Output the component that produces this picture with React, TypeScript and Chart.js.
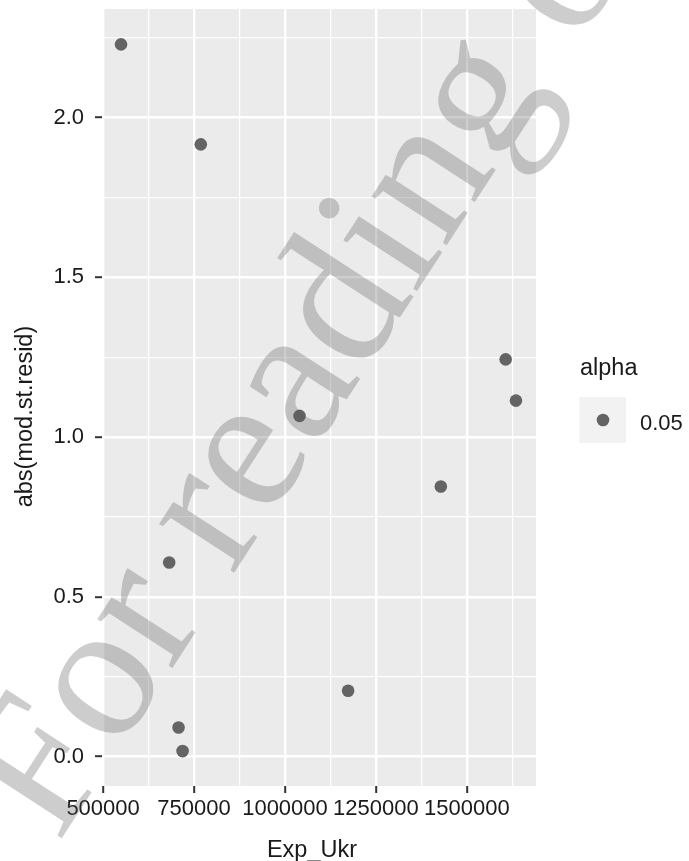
import React, { useEffect, useRef } from 'react';
import { Chart, registerables } from 'chart.js';

Chart.register(...registerables);

// ---- data ----
const expUkr = [549300, 768600, 681700, 707500, 718500, 1040000, 1173500, 1428400, 1606600, 1634900];
const absResid = [2.229, 1.916, 0.607, 0.091, 0.017, 1.066, 0.206, 0.845, 1.243, 1.114];

const xMajorTicks = [500000, 750000, 1000000, 1250000, 1500000];
const xMinorTicks = [625000, 875000, 1125000, 1375000, 1625000];
const yMajorTicks = [0, 0.5, 1, 1.5, 2];
const yMinorTicks = [0.25, 0.75, 1.25, 1.75, 2.25];

const xTitle = 'Exp_Ukr';
const yTitle = 'abs(mod.st.resid)';
const legendTitle = 'alpha';
const legendLabels = ['0.05'];
const watermarkText = 'For reading only';

const FONT = '"Liberation Sans", Arial, sans-serif';
const POINT_COLOR = '#646464';
const TEXT_COLOR = '#1a1a1a';

const ggPlugin = {
  id: 'ggLook',
  beforeDraw(chart: any) {
    const { ctx, chartArea: a } = chart;
    ctx.save();
    ctx.fillStyle = '#EBEBEB';
    ctx.fillRect(a.left, a.top, a.right - a.left, a.bottom - a.top);
    ctx.restore();
  },
  afterDraw(chart: any) {
    const ctx = chart.ctx as CanvasRenderingContext2D;
    // axis titles
    ctx.save();
    ctx.fillStyle = TEXT_COLOR;
    ctx.font = `23.5px ${FONT}`;
    ctx.textAlign = 'center';
    ctx.textBaseline = 'alphabetic';
    ctx.fillText(xTitle, 312, 856.5);
    ctx.translate(32, 416.5);
    ctx.rotate(-Math.PI / 2);
    ctx.fillText(yTitle, 0, 0);
    ctx.restore();

    // legend
    ctx.save();
    ctx.fillStyle = TEXT_COLOR;
    ctx.font = `23.5px ${FONT}`;
    ctx.textAlign = 'left';
    ctx.textBaseline = 'alphabetic';
    ctx.fillText(legendTitle, 580, 375);
    legendLabels.forEach((lab, i) => {
      const top = 397 + i * 46;
      ctx.fillStyle = '#F2F2F2';
      ctx.fillRect(579.5, top, 46.5, 46);
      ctx.fillStyle = POINT_COLOR;
      ctx.beginPath();
      ctx.arc(603, top + 23, 6.3, 0, Math.PI * 2);
      ctx.fill();
      ctx.fillStyle = TEXT_COLOR;
      ctx.font = `22px ${FONT}`;
      ctx.fillText(lab, 640, top + 33);
    });
    ctx.restore();

    // watermark
    ctx.save();
    ctx.fillStyle = 'rgba(90,90,90,0.3)';
    ctx.font = '195px "Liberation Serif", "Times New Roman", serif';
    ctx.textAlign = 'left';
    ctx.textBaseline = 'alphabetic';
    ctx.translate(58, 844);
    ctx.rotate((-57 * Math.PI) / 180);
    ctx.fillText(watermarkText, 0, 0);
    ctx.restore();
  },
};

function App() {
  const canvasRef = useRef<HTMLCanvasElement | null>(null);

  useEffect(() => {
    if (!canvasRef.current) return;
    const isXMajor = (v: number) => xMajorTicks.includes(v);
    const isYMajor = (v: number) => yMajorTicks.includes(v);
    const chart = new Chart(canvasRef.current, {
      type: 'scatter',
      data: {
        datasets: [
          {
            data: expUkr.map((x, i) => ({ x, y: absResid[i] })),
            backgroundColor: POINT_COLOR,
            borderWidth: 0,
            pointRadius: 6.3,
            pointHoverRadius: 6.3,
          },
        ],
      },
      options: {
        animation: false,
        responsive: false,
        devicePixelRatio: 1,
        events: [],
        layout: { padding: { left: 0, top: 9, right: 153, bottom: 0 } },
        plugins: { legend: { display: false }, tooltip: { enabled: false } },
        scales: {
          x: {
            type: 'linear',
            min: 497000,
            max: 1690000,
            afterBuildTicks: (s: any) => {
              s.ticks = [...xMajorTicks, ...xMinorTicks].sort((a, b) => a - b).map((v) => ({ value: v }));
            },
            afterFit: (s: any) => {
              s.height = 75;
              s.paddingLeft = 0;
              s.paddingRight = 0;
            },
            border: { display: false },
            grid: {
              color: '#ffffff',
              lineWidth: (c: any) => (c.tick && isXMajor(c.tick.value) ? 2.4 : 1.2),
              tickColor: (c: any) => (c.tick && isXMajor(c.tick.value) ? '#333333' : 'rgba(0,0,0,0)'),
              tickWidth: 2,
              tickLength: 7,
            },
            ticks: {
              autoSkip: false,
              maxRotation: 0,
              minRotation: 0,
              padding: 2.5,
              color: TEXT_COLOR,
              font: { size: 22, family: FONT },
              callback: (v: any) => (isXMajor(Number(v)) ? String(v) : ''),
            },
          },
          y: {
            type: 'linear',
            min: -0.0923,
            max: 2.3396,
            afterBuildTicks: (s: any) => {
              s.ticks = [...yMajorTicks, ...yMinorTicks].sort((a, b) => a - b).map((v) => ({ value: v }));
            },
            afterFit: (s: any) => {
              s.width = 102;
              s.paddingTop = 0;
              s.paddingBottom = 0;
            },
            border: { display: false },
            grid: {
              color: '#ffffff',
              lineWidth: (c: any) => (c.tick && isYMajor(c.tick.value) ? 2.4 : 1.2),
              tickColor: (c: any) => (c.tick && isYMajor(c.tick.value) ? '#333333' : 'rgba(0,0,0,0)'),
              tickWidth: 2,
              tickLength: 7,
            },
            ticks: {
              autoSkip: false,
              padding: 11,
              color: TEXT_COLOR,
              font: { size: 22, family: FONT },
              callback: (v: any) => (isYMajor(Number(v)) ? Number(v).toFixed(1) : ''),
            },
          },
        },
      },
      plugins: [ggPlugin],
    } as any);
    return () => chart.destroy();
  }, []);

  return (
    <div style={{ position: 'fixed', left: 0, top: 0, width: 689, height: 861, background: '#ffffff' }}>
      <canvas ref={canvasRef} width={689} height={861} style={{ width: 689, height: 861, display: 'block' }} />
    </div>
  );
}

export default App;
